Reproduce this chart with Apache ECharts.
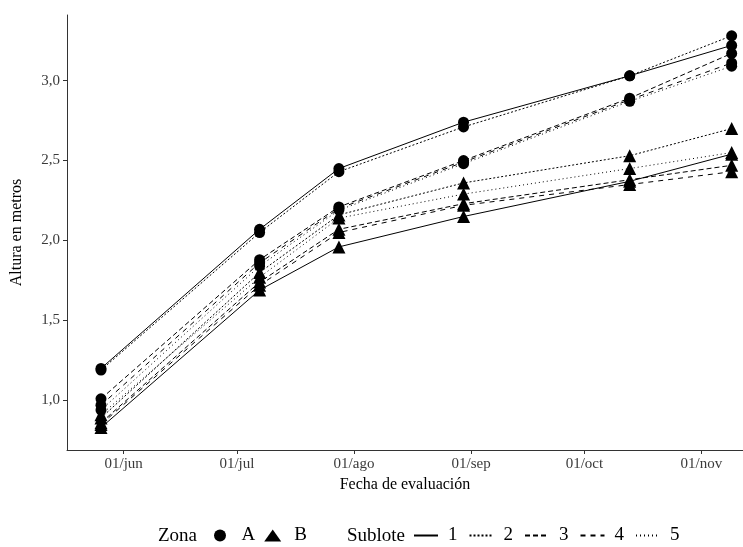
<!DOCTYPE html>
<html>
<head>
<meta charset="utf-8">
<script src="https://cdn.jsdelivr.net/npm/echarts@6/dist/echarts.min.js"></script>
<style>
  html, body { margin: 0; padding: 0; background: #fff; }
  #chart { width: 743px; height: 547px; }
</style>
</head>
<body>
<div id="chart"></div>
<script>
// fechas de evaluación
var fechas = ['2021-05-26', '2021-07-07', '2021-07-28', '2021-08-30', '2021-10-13', '2021-11-09']

// zona A (círculos), sublotes 1..5
var zonaA1 = [1.20, 2.07, 2.45, 2.74, 3.03, 3.22]
var zonaA2 = [1.19, 2.05, 2.43, 2.71, 3.03, 3.28]
var zonaA3 = [1.01, 1.88, 2.21, 2.50, 2.89, 3.17]
var zonaA4 = [0.97, 1.86, 2.20, 2.49, 2.88, 3.11]
var zonaA5 = [0.94, 1.84, 2.19, 2.48, 2.87, 3.09]

// zona B (triángulos), sublotes 1..5
var zonaB1 = [0.83, 1.69, 1.96, 2.15, 2.37, 2.54]
var zonaB2 = [0.89, 1.80, 2.16, 2.36, 2.53, 2.70]
var zonaB3 = [0.86, 1.74, 2.07, 2.23, 2.38, 2.47]
var zonaB4 = [0.85, 1.72, 2.05, 2.22, 2.35, 2.43]
var zonaB5 = [0.91, 1.77, 2.14, 2.29, 2.45, 2.55]

var zonas = ['A', 'B']
var sublotes = ['1', '2', '3', '4', '5']
var meses = ['ene', 'feb', 'mar', 'abr', 'may', 'jun', 'jul', 'ago', 'sep', 'oct', 'nov', 'dic']

var fuente = 'Liberation Serif'
// tipos de línea como en ggplot (1..5)
var tiposLinea = ['solid', [2, 2], [5, 3], [5, 5], [1, 3]]
var simbolos = { A: 'circle', B: 'triangle' }
var tamanos = { A: 11, B: 13 }

function serie(zona, idx, valores) {
  return {
    name: zona + sublotes[idx],
    type: 'line',
    data: fechas.map(function(f, i) { return [f, valores[i]] }),
    symbol: simbolos[zona],
    symbolSize: tamanos[zona],
    itemStyle: { color: '#000' },
    lineStyle: { color: '#000', width: 1, type: tiposLinea[idx] },
    emphasis: { disabled: true },
    animation: false
  }
}

var series = [
  serie('A', 0, zonaA1), serie('A', 1, zonaA2), serie('A', 2, zonaA3), serie('A', 3, zonaA4), serie('A', 4, zonaA5),
  serie('B', 0, zonaB1), serie('B', 1, zonaB2), serie('B', 2, zonaB3), serie('B', 3, zonaB4), serie('B', 4, zonaB5)
]

// series vacías solo para la leyenda
zonas.forEach(function(z) {
  series.push({ name: z, type: 'line', data: [], symbol: simbolos[z], itemStyle: { color: '#000' }, lineStyle: { width: 0 } })
})
sublotes.forEach(function(s, i) {
  series.push({ name: s, type: 'line', data: [], symbol: 'none', itemStyle: { color: '#000' }, lineStyle: { color: '#000', width: 1.2, type: tiposLinea[i] } })
})

var chart = echarts.init(document.getElementById('chart'))
chart.setOption({
  animation: false,
  grid: { left: 67, right: 0, top: 15, bottom: 97, containLabel: false },
  xAxis: {
    type: 'time',
    min: '2021-05-17',
    max: '2021-11-12',
    minInterval: 28 * 86400000,
    maxInterval: 31 * 86400000,
    name: 'Fecha de evaluación',
    nameLocation: 'middle',
    nameGap: 24,
    nameTextStyle: { fontFamily: fuente, fontSize: 16, color: '#000' },
    axisLine: { lineStyle: { color: '#333', width: 1 } },
    axisTick: { show: true, length: 4, lineStyle: { color: '#333' } },
    splitLine: { show: false },
    axisLabel: {
      fontFamily: fuente, fontSize: 15, color: '#3a3a3a', margin: 7,
      showMinLabel: false, showMaxLabel: false,
      formatter: function(v) {
        var d = new Date(v)
        if (d.getDate() !== 1) return ''
        return '01/' + meses[d.getMonth()]
      }
    }
  },
  yAxis: {
    type: 'value',
    min: 0.69,
    max: 3.41,
    splitNumber: 5,
    name: 'Altura en metros',
    nameLocation: 'middle',
    nameGap: 42,
    nameTextStyle: { fontFamily: fuente, fontSize: 16, color: '#000' },
    axisLine: { show: true, lineStyle: { color: '#333', width: 1 } },
    axisTick: { show: true, length: 4, lineStyle: { color: '#333' } },
    splitLine: { show: false },
    axisLabel: {
      fontFamily: fuente, fontSize: 15, color: '#3a3a3a', margin: 7,
      showMinLabel: false, showMaxLabel: false,
      formatter: function(v) {
        if (Math.abs(v * 2 - Math.round(v * 2)) > 1e-6) return ''
        return v.toFixed(1).replace('.', ',')
      }
    }
  },
  legend: [
    {
      data: [{ name: 'A', icon: 'circle' }, { name: 'B', icon: 'triangle' }],
      left: 214, top: 526, padding: 0,
      itemWidth: 17, itemHeight: 12, itemGap: 9,
      textStyle: { fontFamily: fuente, fontSize: 19, color: '#000', padding: [0, 0, 0, 8] },
      selectedMode: false
    },
    {
      data: sublotes,
      left: 413, top: 526, padding: 0,
      itemWidth: 24, itemHeight: 12, itemGap: 11,
      itemStyle: { opacity: 0 },
      textStyle: { fontFamily: fuente, fontSize: 19, color: '#000', padding: [0, 0, 0, 5] },
      selectedMode: false
    }
  ],
  graphic: [
    { type: 'text', x: 158, y: 536, style: { text: 'Zona', font: '19px "Liberation Serif"', fill: '#000', verticalAlign: 'middle' } },
    { type: 'text', x: 347, y: 536, style: { text: 'Sublote', font: '19px "Liberation Serif"', fill: '#000', verticalAlign: 'middle' } }
  ],
  series: series
})
</script>
</body>
</html>
